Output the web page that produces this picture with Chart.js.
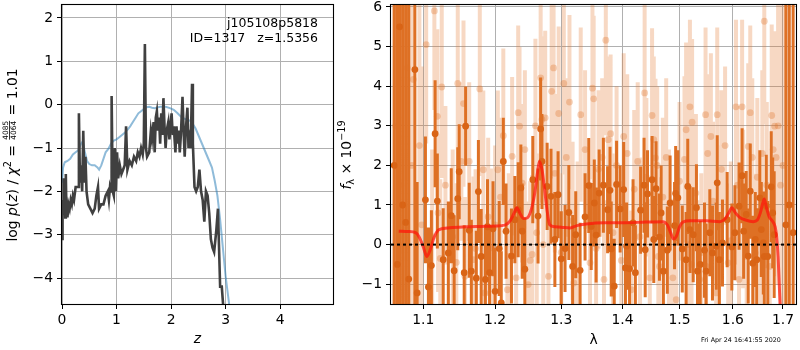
<!DOCTYPE html>
<html>
<head>
<meta charset="utf-8">
<title>j105108p5818 fit</title>
<script src="https://cdn.jsdelivr.net/npm/chart.js@4.4.1/dist/chart.umd.min.js"></script>
<style>
  html, body { margin: 0; padding: 0; background: #fff; }
  #wrap { position: relative; width: 800px; height: 350px; overflow: hidden; }
  #pzChart { position: absolute; left: 0; top: 0; }
  #specChart { position: absolute; left: 330px; top: 0; }
  #stamp { position: absolute; left: 701px; top: 336px; font: 6.4px "DejaVu Sans"; color: #000; white-space: nowrap; }
</style>
</head>
<body>
<div id="wrap">
  <canvas id="pzChart" width="340" height="350"></canvas>
  <canvas id="specChart" width="470" height="350"></canvas>
  <div id="stamp">Fri Apr 24 16:41:55 2020</div>
</div>
<script>
// ---- p(z) panel ----
const zTicks = [0, 1, 2, 3, 4];
const logpTicks = [-4, -3, -2, -1, 0, 1, 2];

const pzZ = [0.00,0.01,0.02,0.03,0.04,0.05,0.06,0.07,0.08,0.09,0.10,
  0.12,0.14,0.16,0.18,0.20,0.22,0.25,0.28,0.30,
  0.31,0.33,0.35,0.37,0.39,0.41,0.43,0.45,0.48,
  0.52,0.56,0.60,0.63,0.66,0.68,0.72,0.76,0.80,0.84,
  0.86,0.88,0.90,0.91,0.93,0.95,0.97,0.99,
  1.01,1.03,1.06,1.09,1.12,1.15,1.175,1.20,
  1.24,1.28,1.32,1.36,1.39,1.42,1.45,1.48,1.50,
  1.52,1.54,1.56,1.60,1.63,1.65,1.68,1.70,1.72,1.74,
  1.76,1.78,1.80,1.82,1.84,1.86,1.88,1.90,1.92,1.95,
  1.97,1.99,2.01,2.03,2.05,2.08,2.10,2.12,2.14,2.16,
  2.18,2.21,2.23,2.25,2.27,2.30,2.32,2.34,2.36,2.385,
  2.40,2.43,2.46,2.49,2.52,2.55,2.58,2.61,2.64,2.67,
  2.70,2.73,2.76,2.79,2.83,2.86,2.88,2.90,2.93,2.96];
const pzLog = [-3.1,-2.2,-2.4,-1.7,-2.5,-2.2,-2.6,-1.6,-2.4,-2.3,-2.6,
  -2.3,-2.4,-2.2,-2.3,-2.1,-2.2,-1.9,-1.9,-1.9,
  -0.2,-1.8,-1.4,-2.0,-0.6,-1.8,-1.2,-2.0,-2.3,
  -2.4,-2.5,-2.4,-2.1,-1.9,-2.4,-2.3,-2.3,-2.1,-2.0,
  -2.2,-1.9,-2.0,0.2,-2.0,-2.1,-1.0,-2.0,
  -1.1,-1.7,-1.4,-1.6,-1.5,-1.4,-0.5,-1.5,
  -1.3,-1.4,-1.2,-1.3,-1.1,-1.2,-1.0,-1.15,-0.9,
  1.4,-1.0,-1.2,-1.1,-0.6,-0.8,-0.4,-1.1,-0.3,-0.15,
  -0.6,-0.3,-0.9,-0.2,-0.7,0.15,-0.5,-1.0,-0.6,-0.4,
  -0.8,-0.5,-0.2,-0.7,-0.5,-1.1,-0.5,-0.9,-0.6,-1.1,
  -0.7,0.18,-0.6,-1.2,-0.6,-0.07,-1.0,-0.8,-1.0,0.48,
  -0.9,-1.9,-2.0,-1.9,-1.5,-2.0,-2.2,-2.7,-2.0,-2.1,
  -2.5,-3.1,-3.3,-3.4,-2.9,-2.4,-3.3,-4.2,-4.2,-4.7];

const priorZ = [0.0,0.02,0.05,0.1,0.15,0.2,0.25,0.3,0.35,0.38,
  0.42,0.46,0.5,0.55,0.6,0.65,0.68,0.72,0.76,0.8,
  0.85,0.9,0.95,1.0,1.05,1.1,1.15,1.2,1.25,1.3,
  1.35,1.4,1.45,1.5,1.55,1.6,1.65,1.7,1.8,1.9,
  1.98,2.05,2.12,2.2,2.3,2.35,2.4,2.45,2.5,2.55,
  2.6,2.65,2.7,2.75,2.8,2.85,2.9,2.95,3.0,3.05,3.1];
const priorLog = [-1.8,-1.45,-1.33,-1.3,-1.25,-1.15,-1.1,-1.05,-0.9,-0.85,
  -1.1,-1.3,-1.37,-1.4,-1.4,-1.45,-1.5,-1.4,-1.25,-1.1,
  -1.02,-0.9,-0.83,-0.8,-0.75,-0.7,-0.65,-0.58,-0.5,-0.4,
  -0.3,-0.2,-0.15,-0.1,-0.06,-0.05,-0.07,-0.08,-0.05,-0.05,
  -0.08,-0.12,-0.2,-0.3,-0.35,-0.37,-0.45,-0.55,-0.7,-0.85,
  -1.0,-1.15,-1.3,-1.45,-1.75,-2.1,-2.65,-3.3,-3.95,-4.45,-4.95];

// ---- spectrum panel ----
const lamTicks = [1.1, 1.2, 1.3, 1.4, 1.5, 1.6, 1.7];
const fluxTicks = [-1, 0, 1, 2, 3, 4, 5, 6];

const darkLam = [1.062,1.066,1.069,1.073,1.077,1.081,1.089,1.092,1.103,1.107,
  1.111,1.116,1.119,1.127,1.134,1.138,1.142,1.147,1.149,1.156,
  1.158,1.163,1.166,1.173,1.176,1.180,1.186,1.189,1.192,1.197,
  1.200,1.206,1.209,1.212,1.216,1.224,1.229,1.234,1.238,1.240,
  1.244,1.256,1.264,1.268,1.270,1.278,1.284,1.290,1.295,1.300,
  1.306,1.312,1.318,1.323,1.330,1.338,1.344,1.348,1.353,1.356,
  1.361,1.368,1.375,1.379,1.381,1.386,1.390,1.396,1.402,1.405,
  1.407,1.412,1.418,1.422,1.431,1.437,1.439,1.443,1.451,1.454,
  1.458,1.464,1.467,1.471,1.478,1.483,1.491,1.493,1.497,1.505,
  1.512,1.515,1.519,1.525,1.531,1.533,1.538,1.546,1.549,1.556,
  1.561,1.568,1.570,1.574,1.580,1.589,1.598,1.604,1.612,1.618,
  1.621,1.626,1.630,1.634,1.639,1.644,1.647,1.653,1.656,1.660,
  1.662,1.666,1.669,1.676,1.679,1.682,1.706,1.713,1.721];
const darkFlux = [2.0,-0.5,5.5,1.0,0.56,-0.87,4.42,-1.22,1.13,-1.07,
  -0.53,2.8,1.1,-0.38,-0.21,0.73,-0.66,1.16,1.84,-0.71,
  2.99,0.36,-0.67,-0.85,1.34,-0.3,-0.88,0.45,-0.71,0.4,
  -1.18,-0.1,-1.47,2.1,0.34,-0.29,0.63,0.88,1.43,0.34,
  -0.62,1.64,0.72,2.92,2.1,1.47,1.22,0.13,1.26,-0.36,
  -0.1,0.81,-0.55,0.25,-0.65,0.7,1.49,0.46,1.05,0.24,
  1.3,1.5,0.88,1.37,-0.11,-1.05,1.52,0.9,1.39,-0.59,
  -0.04,-0.61,0.55,-0.71,0.87,1.5,-0.13,1.28,1.64,0.13,
  1.41,0.19,0.8,-0.67,-0.14,1.05,0.48,1.29,1.18,-0.11,
  -0.38,1.47,0.38,0.25,0.93,-0.67,-0.5,-0.14,-0.67,0.3,
  -0.21,-0.04,1.56,-0.38,0.04,0.63,-0.06,0.3,0.97,1.74,
  0.34,0.76,-0.29,1.35,-0.47,0.13,-0.38,1.18,0.38,0.04,
  -0.3,0.97,-0.3,1.46,0.8,0.25,0.5,1.0,0.3];
const darkErr = [9,9,9,9,9,9,9,2.8,1.6,1.5,
  1.4,1.35,1.2,1.3,1.3,1.2,1.4,1.3,1.2,1.2,
  1.0,1.2,1.3,1.2,1.3,1.2,1.3,1.2,1.2,1.2,
  1.1,1.2,1.3,1.1,1.2,1.2,1.1,1.2,1.1,1.2,
  1.3,1.1,1.2,1.3,1.2,1.1,1.2,1.2,1.1,1.2,
  1.1,1.2,1.3,1.1,1.2,1.1,1.2,1.1,1.1,1.2,
  1.1,1.2,1.1,1.1,1.2,1.2,1.1,1.1,1.2,1.1,
  1.1,1.2,1.1,1.2,1.1,1.2,1.2,1.1,1.1,1.1,
  1.2,1.1,1.2,1.2,1.1,1.2,1.1,1.2,1.2,1.1,
  1.2,1.2,1.1,1.2,1.1,1.2,1.1,1.2,1.2,1.1,
  1.2,1.1,1.2,1.2,1.1,1.2,1.1,1.2,1.1,1.2,
  1.2,1.1,1.2,1.2,1.2,1.2,1.3,1.2,1.2,1.3,
  1.3,1.3,1.4,1.4,1.4,1.6,9,9,9];

const lightLam = [1.064,1.071,1.079,1.085,1.087,1.095,1.098,1.104,1.112,1.115,
  1.119,1.120,1.123,1.125,1.130,1.140,1.145,1.147,1.152,1.155,
  1.157,1.163,1.169,1.172,1.178,1.183,1.185,1.190,1.194,1.200,
  1.204,1.208,1.212,1.218,1.220,1.225,1.231,1.234,1.236,1.240,
  1.244,1.249,1.252,1.255,1.260,1.262,1.268,1.270,1.272,1.275,
  1.280,1.285,1.288,1.290,1.296,1.300,1.304,1.308,1.313,1.318,
  1.320,1.326,1.331,1.338,1.346,1.350,1.352,1.356,1.360,1.366,
  1.369,1.372,1.376,1.380,1.384,1.385,1.390,1.398,1.402,1.408,
  1.415,1.420,1.426,1.430,1.438,1.441,1.447,1.451,1.454,1.457,
  1.460,1.462,1.464,1.470,1.476,1.481,1.488,1.494,1.500,1.509,
  1.512,1.516,1.519,1.522,1.523,1.530,1.537,1.540,1.548,1.549,
  1.552,1.558,1.562,1.568,1.570,1.573,1.578,1.585,1.591,1.596,
  1.606,1.609,1.612,1.618,1.620,1.627,1.630,1.634,1.638,1.644,
  1.648,1.655,1.658,1.662,1.667,1.673,1.677,1.680,1.683,1.686,
  1.690,1.695,1.700];
const lightFlux = [3.0,1.5,4.46,2.0,4.17,2.5,0.5,5.05,0.2,5.9,
  3.24,0.8,-0.35,3.98,1.5,0.2,-0.45,4.07,2.1,3.56,
  -0.8,2.1,-0.38,-0.1,3.93,1.89,-1.22,0.7,-0.08,0.5,
  1.89,1.2,2.75,-1.14,-0.3,2.23,-0.84,3.33,2.99,1.55,
  2.4,-1.01,-0.4,-0.25,3.0,0.3,4.21,3.16,0.0,3.2,
  -0.8,3.87,4.46,1.8,3.31,-0.2,4.07,2.2,3.6,0.6,
  -0.97,0.1,3.28,2.4,-0.46,3.95,3.68,-0.1,1.9,2.2,
  -0.88,5.16,2.65,2.8,0.3,-1.05,2.0,-0.4,2.73,2.3,
  -1.14,1.4,2.1,0.2,3.83,1.7,-0.84,3.26,2.65,2.19,
  2.0,-0.3,-0.55,1.2,2.2,0.4,-0.84,-1.39,1.6,2.15,
  2.9,0.0,3.48,-0.5,3.09,1.3,-0.88,-0.2,3.28,-0.55,
  2.3,2.73,1.1,-1.22,3.28,0.5,1.9,2.5,-0.46,0.1,
  3.48,1.5,-0.88,3.48,0.9,-0.3,2.48,3.33,2.2,-0.21,
  1.7,0.2,2.3,5.64,1.5,-0.55,3.26,2.4,2.99,2.2,
  3.0,1.5,2.0];
const lightErr = [9,9,9,9,6,5,4,2.5,2.2,2.5,
  2.2,2.0,2.0,2.3,2.0,2.2,2.0,2.2,2.0,2.1,
  2.0,2.0,2.1,2.0,2.2,2.0,2.0,2.0,2.0,2.0,
  2.0,2.0,2.2,2.0,2.1,2.0,2.0,2.2,2.0,2.0,
  2.0,2.1,2.0,2.0,2.2,2.0,2.3,2.1,2.0,2.2,
  2.0,2.2,2.3,2.0,2.2,2.0,2.3,2.0,2.2,2.0,
  2.0,2.0,2.2,2.0,2.0,2.3,2.1,2.0,2.0,2.0,
  2.0,2.4,2.1,2.0,2.0,2.0,2.0,2.0,2.1,2.0,
  2.0,2.0,2.0,2.0,2.3,2.0,2.0,2.2,2.1,2.0,
  2.0,2.0,2.0,2.0,2.0,2.0,2.0,2.0,2.0,2.1,
  2.2,2.0,2.2,2.0,2.1,2.0,2.0,2.0,2.2,2.0,
  2.0,2.1,2.0,2.0,2.2,2.0,2.0,2.0,2.0,2.0,
  2.2,2.0,2.0,2.2,2.0,2.0,2.1,2.2,2.0,2.0,
  2.0,2.0,2.1,2.6,2.1,2.1,2.3,2.3,2.4,3.0,
  4,6,9];

const modelLam = [1.068,1.08,1.09,1.095,1.100,1.105,1.110,1.115,1.120,1.125,
  1.140,1.16,1.18,1.20,1.215,1.222,1.228,1.232,1.237,1.242,
  1.248,1.254,1.259,1.263,1.266,1.270,1.274,1.278,1.282,1.290,
  1.300,1.314,1.325,1.34,1.37,1.40,1.44,1.47,1.478,1.484,
  1.489,1.494,1.50,1.506,1.52,1.55,1.575,1.585,1.592,1.598,
  1.604,1.612,1.625,1.64,1.648,1.654,1.659,1.662,1.666,1.672,
  1.678,1.684,1.687,1.690,1.693,1.696];
const modelFlux = [0.34,0.33,0.3,0.18,-0.05,-0.3,-0.1,0.2,0.36,0.4,
  0.43,0.45,0.46,0.47,0.5,0.6,0.8,0.93,0.78,0.66,
  0.68,0.9,1.3,1.8,2.1,1.9,1.4,0.85,0.5,0.45,
  0.44,0.42,0.48,0.52,0.55,0.55,0.57,0.58,0.5,0.3,
  0.14,0.2,0.45,0.57,0.6,0.6,0.58,0.65,0.8,0.93,
  0.82,0.7,0.62,0.58,0.62,0.8,1.05,1.15,0.95,0.7,
  0.6,0.45,0.2,-0.3,-1.2,-2.0];

// ---- styling helpers ----
const FAMILY = '"DejaVu Sans", sans-serif';
const FS = 13.9;
Chart.defaults.font.family = FAMILY;
Chart.defaults.font.size = FS;
Chart.defaults.color = "#000";

const GRID = "#b0b0b0";
const ORANGE = "rgb(217, 100, 22)";
const ORANGE_BAR = "rgb(222, 112, 36)";
const ORANGE_LIGHT = "rgba(225, 115, 40, 0.28)";
const ORANGE_LIGHT_PT = "rgba(225, 115, 40, 0.32)";

const minus = (v) => String(v).replace("-", "\u2212");
const fixedTicks = (values) => (s) => { s.ticks = values.map((v) => ({ value: v })); };
const pinWidth = (w) => (s) => { s.width = w; s.paddingTop = 0; s.paddingBottom = 0; };
const pinHeight = (h) => (s) => { s.height = h; s.paddingLeft = 0; s.paddingRight = 0; };

function axis(extra) {
  return Object.assign({
    grid: { color: GRID, lineWidth: 1, tickLength: 5, tickColor: "#000", tickWidth: 1 },
    border: { display: false }
  }, extra);
}

function xy(xs, ys) {
  return xs.map((x, i) => ({ x, y: ys[i] }));
}

function errorBars(xs, ys, es) {
  const pts = [];
  xs.forEach((x, i) => {
    pts.push({ x, y: ys[i] - es[i] }, { x, y: ys[i] + es[i] }, { x, y: null });
  });
  return pts;
}

// rotated label made of runs (plain, sub/superscript, fraction)
function drawRich(ctx, cx, cy, parts) {
  ctx.save();
  ctx.translate(cx, cy);
  ctx.rotate(-Math.PI / 2);
  ctx.fillStyle = "#000";
  ctx.textBaseline = "alphabetic";
  const widths = parts.map((p) => {
    ctx.font = p.font;
    if (p.num) return Math.max(ctx.measureText(p.num).width, ctx.measureText(p.den).width) + 2;
    return ctx.measureText(p.text).width;
  });
  let x = -widths.reduce((a, b) => a + b, 0) / 2;
  parts.forEach((p, i) => {
    ctx.font = p.font;
    if (p.num) {
      const w = widths[i];
      ctx.textAlign = "center";
      ctx.fillText(p.num, x + w / 2, -8.6);
      ctx.fillText(p.den, x + w / 2, -1.2);
      ctx.fillRect(x + 1, -7.8, w - 2, 0.8);
    } else {
      ctx.textAlign = "left";
      ctx.fillText(p.text, x, p.dy || 0);
    }
    x += widths[i];
  });
  ctx.restore();
}

function frame(ctx, a) {
  ctx.save();
  ctx.strokeStyle = "#000";
  ctx.lineWidth = 1.1;
  ctx.strokeRect(a.left - 0.5, a.top - 0.5, a.right - a.left + 1, a.bottom - a.top + 1);
  ctx.restore();
}

const N = FS + "px " + FAMILY;
const I = "italic " + FS + "px " + FAMILY;
const SMALL = "9.7px " + FAMILY;
const FRAC = "7.4px " + FAMILY;

const pzDecor = {
  id: "pzDecor",
  afterDraw(chart) {
    const { ctx, chartArea } = chart;
    frame(ctx, chartArea);
    ctx.save();
    ctx.fillStyle = "#000";
    ctx.font = "12.5px " + FAMILY;
    ctx.textAlign = "right";
    ctx.fillText("j105108p5818", 318, 27);
    ctx.fillText("ID=1317   z=1.5356", 318, 42);
    ctx.font = I;
    ctx.textAlign = "center";
    ctx.fillText("z", (chartArea.left + chartArea.right) / 2, 343);
    ctx.restore();
    drawRich(ctx, 17, 155, [
      { text: "log ", font: N },
      { text: "p", font: I },
      { text: "(", font: N },
      { text: "z", font: I },
      { text: ") / ", font: N },
      { text: "\u03c7", font: I },
      { text: "2", font: SMALL, dy: -6 },
      { text: " = ", font: N },
      { num: "4085", den: "4064", font: FRAC },
      { text: " = 1.01", font: N }
    ]);
  }
};

const specDecor = {
  id: "specDecor",
  afterDraw(chart) {
    const { ctx, chartArea } = chart;
    frame(ctx, chartArea);
    ctx.save();
    ctx.fillStyle = "#000";
    ctx.font = N;
    ctx.textAlign = "center";
    ctx.fillText("\u03bb", (chartArea.left + chartArea.right) / 2, 344);
    ctx.restore();
    drawRich(ctx, 21, 155, [
      { text: "f", font: I },
      { text: "\u03bb", font: SMALL, dy: 3 },
      { text: " \u00d7 10", font: N },
      { text: "\u221219", font: SMALL, dy: -6 }
    ]);
  }
};

new Chart(document.getElementById("pzChart"), {
  type: "scatter",
  data: {
    datasets: [
      { data: xy(pzZ, pzLog), showLine: true, borderColor: "#404040", borderWidth: 2.6, pointRadius: 0, clip: 0 },
      { data: xy(priorZ, priorLog), showLine: true, borderColor: "rgba(31, 119, 180, 0.5)", borderWidth: 2, pointRadius: 0, clip: 0 }
    ]
  },
  options: {
    responsive: false,
    animation: false,
    events: [],
    layout: { padding: { left: 0, right: 7, top: 5, bottom: 0 } },
    plugins: { legend: { display: false }, tooltip: { enabled: false } },
    scales: {
      x: axis({ type: "linear", min: 0, max: 4.97, afterBuildTicks: fixedTicks(zTicks), afterFit: pinHeight(46),
        ticks: { padding: 3, maxRotation: 0, callback: (v) => minus(v) } }),
      y: axis({ type: "linear", min: -4.6, max: 2.3, afterBuildTicks: fixedTicks(logpTicks), afterFit: pinWidth(62),
        ticks: { padding: 4, callback: (v) => minus(v) } })
    }
  },
  plugins: [pzDecor]
});

new Chart(document.getElementById("specChart"), {
  type: "scatter",
  data: {
    datasets: [
      { data: [{ x: 1.058, y: 0 }, { x: 1.727, y: 0 }], showLine: true, borderColor: "#000", borderWidth: 2, borderDash: [3, 3], pointRadius: 0, clip: 0 },
      { data: xy(modelLam, modelFlux), showLine: true, borderColor: "rgba(255, 20, 10, 0.72)", borderWidth: 3, cubicInterpolationMode: "monotone", pointRadius: 0, clip: 0 },
      { data: xy(darkLam, darkFlux), pointRadius: 3.4, pointBorderWidth: 0, backgroundColor: ORANGE, clip: 0 },
      { data: errorBars(darkLam, darkFlux, darkErr), showLine: true, spanGaps: false, borderColor: ORANGE_BAR, borderWidth: 3, pointRadius: 0, clip: 0 },
      { data: xy(lightLam, lightFlux), pointRadius: 3.4, pointBorderWidth: 0, backgroundColor: ORANGE_LIGHT_PT, clip: 0 },
      { data: errorBars(lightLam, lightFlux, lightErr), showLine: true, spanGaps: false, borderColor: ORANGE_LIGHT, borderWidth: 4, pointRadius: 0, clip: 0 }
    ]
  },
  options: {
    responsive: false,
    animation: false,
    events: [],
    layout: { padding: { left: 0, right: 1, top: 5, bottom: 0 } },
    plugins: { legend: { display: false }, tooltip: { enabled: false } },
    scales: {
      x: axis({ type: "logarithmic", min: 1.058, max: 1.727, afterBuildTicks: fixedTicks(lamTicks), afterFit: pinHeight(46),
        ticks: { padding: 3, maxRotation: 0, callback: (v) => Number(v).toFixed(1) } }),
      y: axis({ type: "linear", min: -1.5, max: 6.05, afterBuildTicks: fixedTicks(fluxTicks), afterFit: pinWidth(61),
        ticks: { padding: 4, callback: (v) => minus(v) } })
    }
  },
  plugins: [specDecor]
});
</script>
</body>
</html>
